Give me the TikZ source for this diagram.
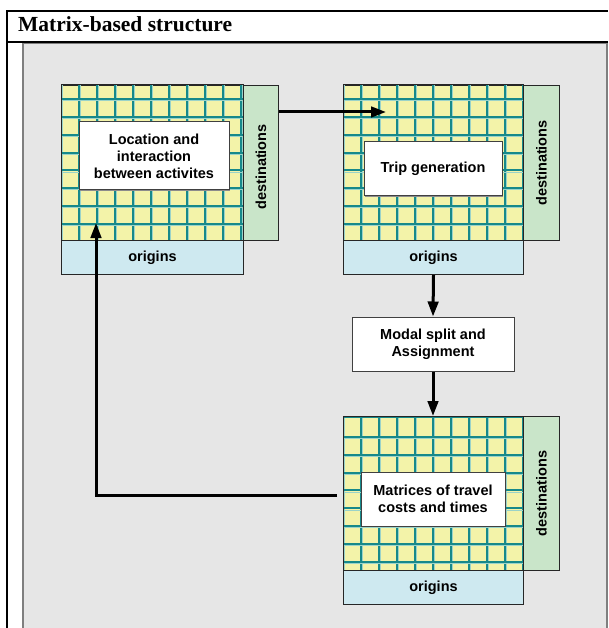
\documentclass[tikz,border=0pt]{standalone}
\usepackage{fontspec}
\setmainfont{Liberation Serif}
\setsansfont{Liberation Sans}
\usetikzlibrary{arrows.meta,shadows,calc}
\definecolor{panel}{HTML}{E6E6E6}
\definecolor{panelline}{HTML}{7F7F7F}
\definecolor{gridfill}{HTML}{F3F3A9}
\definecolor{gridline}{HTML}{16898A}
\definecolor{gridlight}{HTML}{9AD3C9}
\definecolor{destfill}{HTML}{C9E5C9}
\definecolor{origfill}{HTML}{CEE9F0}
\tikzset{
  boxfont/.style={font=\sffamily\bfseries\fontsize{14.5}{17}\selectfont},
  gridbox/.style={draw=black!85, line width=1, fill=gridfill, inner sep=0, anchor=north west},
  destbox/.style={draw=black!85, line width=1, fill=destfill, inner sep=0, anchor=north west, minimum width=36pt, minimum height=155pt},
  origbox/.style={draw=black!85, line width=1, fill=origfill, inner sep=0, anchor=north west, minimum width=180pt, minimum height=34pt},
  textbox/.style={draw=black!75, line width=1, fill=white, align=center, inner sep=0, boxfont,
    drop shadow={shadow xshift=1.2pt, shadow yshift=-1.2pt, fill=black!45, opacity=1}},
  gridln/.style={draw=gridline, line width=2},
  gridlt/.style={draw=gridlight, line width=0.8},
  conn/.style={draw=black, line width=3, -{Triangle[length=15pt,width=10.5pt]}},
  frameln/.style={draw=black, line width=2},
}
\begin{document}
\begin{tikzpicture}[x=1pt,y=-1pt]
\useasboundingbox (0,0) rectangle (608,628);
\fill[white] (0,0) rectangle (608,628);
% frame and panel
\fill[panel] (22,43) rectangle (608,628);
\draw[panelline, line width=2] (23,628) -- (23,43) -- (607,43) -- (607,628);
\draw[frameln] (7,628) -- (7,11) -- (608,11);
\draw[frameln] (7,42) -- (608,42);
\node[anchor=base west, inner sep=0, font=\bfseries\fontsize{21.5}{25}\selectfont] (title) at (18,32) {Matrix-based structure};

% ---- matrix 1 (top left)
\node[gridbox, minimum width=182pt, minimum height=155pt] (g1) at (61,85) {};
\begin{scope}
\clip (61,85) rectangle (243,240);
\foreach \i in {0,...,10} {\draw[gridlt] (62.8+18*\i,85) -- (62.8+18*\i,240); \draw[gridln] (61+18*\i,85) -- (61+18*\i,240);}
\foreach \k in {0,...,7} {\draw[gridlt] (61,100.9+17.8*\k) -- (243,100.9+17.8*\k); \draw[gridln] (61,99.3+17.8*\k) -- (243,99.3+17.8*\k);}
\end{scope}
\draw[black!85, line width=1] (61,85) rectangle (243,240);
\node[destbox, minimum width=35pt] (d1) at (243,85) {};
\node[boxfont, rotate=90] (d1t) at ($(d1.center)+(0,4)$) {destinations};
\node[origbox, minimum width=182pt] (o1) at (61,240) {};
\node[boxfont] (o1t) at (o1.center) {origins};
\node[textbox, minimum width=150pt, minimum height=68pt] (t1) at (154,156) {Location and\\interaction\\between activites};

% ---- matrix 2 (top right)
\node[gridbox, minimum width=180pt, minimum height=155pt] (g2) at (343,85) {};
\begin{scope}
\clip (343,85) rectangle (523,240);
\foreach \i in {0,...,10} {\draw[gridlt] (344.8+18*\i,85) -- (344.8+18*\i,240); \draw[gridln] (343+18*\i,85) -- (343+18*\i,240);}
\foreach \k in {0,...,7} {\draw[gridlt] (343,100.9+17.8*\k) -- (523,100.9+17.8*\k); \draw[gridln] (343,99.3+17.8*\k) -- (523,99.3+17.8*\k);}
\end{scope}
\draw[black!85, line width=1] (343,85) rectangle (523,240);
\node[destbox] (d2) at (523,85) {};
\node[boxfont, rotate=90] (d2t) at (d2.center) {destinations};
\node[origbox] (o2) at (343,240) {};
\node[boxfont] (o2t) at (o2.center) {origins};
\node[textbox, minimum width=138pt, minimum height=54pt] (t2) at (433,169) {Trip generation};

% ---- modal split
\node[textbox, minimum width=162pt, minimum height=54pt] (m) at (433,344) {Modal split and\\Assignment};

% ---- matrix 3 (bottom)
\node[gridbox, minimum width=180pt, minimum height=154pt] (g3) at (343,416) {};
\begin{scope}
\clip (343,416) rectangle (523,570);
\foreach \i in {0,...,10} {\draw[gridlt] (344.8+18*\i,416) -- (344.8+18*\i,570); \draw[gridln] (343+18*\i,416) -- (343+18*\i,570);}
\foreach \k in {0,...,7} {\draw[gridlt] (343,438.3+17.9*\k) -- (523,438.3+17.9*\k); \draw[gridln] (343,436.7+17.9*\k) -- (523,436.7+17.9*\k);}
\draw[gridln] (343,416.8) -- (523,416.8);
\end{scope}
\draw[black!85, line width=1] (343,416) rectangle (523,570);
\node[destbox, minimum height=154pt] (d3) at (523,416) {};
\node[boxfont, rotate=90] (d3t) at (d3.center) {destinations};
\node[origbox] (o3) at (343,570) {};
\node[boxfont] (o3t) at (o3.center) {origins};
\node[textbox, minimum width=144pt, minimum height=54pt] (t3) at (433,499) {Matrices of travel\\costs and times};

% ---- connectors
\coordinate (e1) at (386,112);
\draw[conn] (d1.east |- e1) -- (e1);
\draw[conn] (o2.south) -- (m.north);
\draw[conn] (m.south) -- (g3.north -| m.south);
\coordinate (s4) at (337,495);
\coordinate (e4) at (96,223);
\draw[conn] (s4) -| (e4);
\end{tikzpicture}
\end{document}
